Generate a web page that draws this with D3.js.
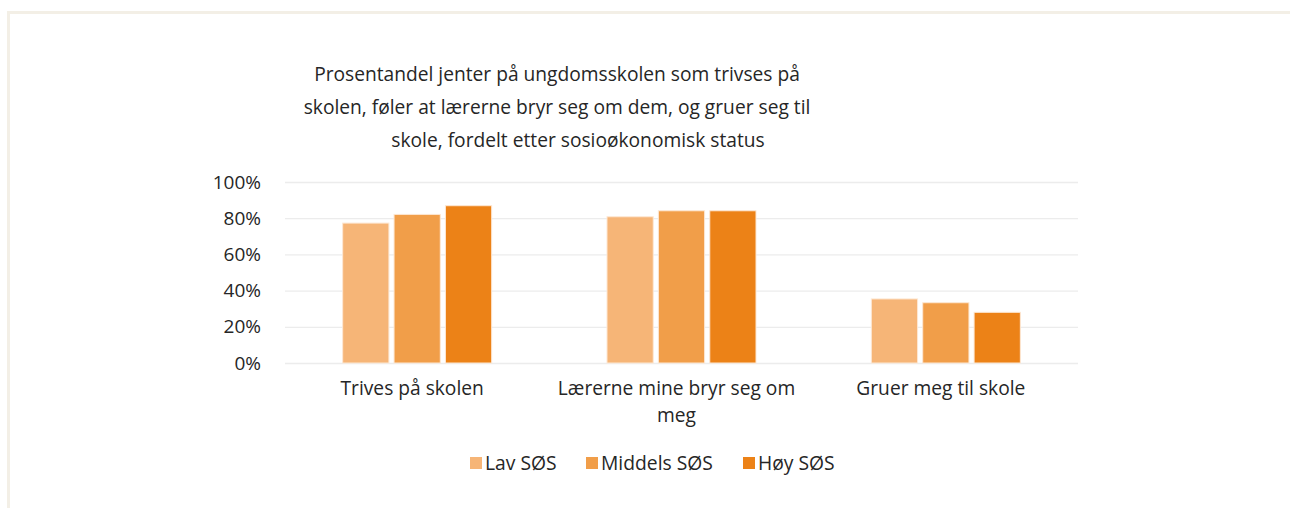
<!DOCTYPE html>
<html>
<head>
<meta charset="utf-8">
<script src="https://cdn.jsdelivr.net/npm/d3@7"></script>
<style>
  body { margin: 0; background: #fff; }
  svg text { font-family: "Open Sans", sans-serif; fill: #262626; }
</style>
</head>
<body>
<svg id="chart" width="1290" height="508"></svg>
<script>
// Chart data
var categories = ["Trives på skolen", "Lærerne mine bryr seg om meg", "Gruer meg til skole"];
var categoryLines = [["Trives på skolen"], ["Lærerne mine bryr seg om", "meg"], ["Gruer meg til skole"]];
var seriesNames = ["Lav SØS", "Middels SØS", "Høy SØS"];
var lavValues = [77.3, 80.8, 35.4];
var middelsValues = [82.1, 84.1, 33.3];
var hoyValues = [86.9, 84.1, 28.0];
var yTicks = [0, 20, 40, 60, 80, 100];
var titleLines = [
    "Prosentandel jenter på ungdomsskolen som trivses på",
    "skolen, føler at lærerne bryr seg om dem, og gruer seg til",
    "skole, fordelt etter sosioøkonomisk status"
];
var colors = ["#f6b577", "#f19e49", "#ec8217"];

var seriesValues = [lavValues, middelsValues, hoyValues];

var svg = d3.select("#chart");

// Frame around the chart area
svg.append("rect")
    .attr("x", 8.5).attr("y", 12.5)
    .attr("width", 1300).attr("height", 520)
    .attr("fill", "none")
    .attr("stroke", "#f3efe6").attr("stroke-width", 3);

// Scales
var x = d3.scaleBand().domain(categories).range([285, 1078]);
var xInner = d3.scaleBand().domain(seriesNames).range([0, 149]).paddingInner(0.1);
var y = d3.scaleLinear().domain([0, 100]).range([363, 182]);

// Gridlines
svg.append("g")
    .selectAll("line")
    .data(yTicks)
    .join("line")
    .attr("x1", 285).attr("x2", 1078)
    .attr("y1", function (d) { return y(d) + 0.5; })
    .attr("y2", function (d) { return y(d) + 0.5; })
    .attr("stroke", "#ececec").attr("stroke-width", 1.3);

// Y axis labels
var yAxis = d3.axisLeft(y).tickValues(yTicks).tickSize(0).tickPadding(0)
    .tickFormat(function (d) { return d + "%"; });
var yAxisG = svg.append("g").attr("transform", "translate(261,0)").call(yAxis);
yAxisG.select(".domain").remove();
yAxisG.selectAll("text")
    .style("font-family", "'Open Sans', sans-serif")
    .style("font-size", "19px")
    .attr("fill", "#262626");

// Bars
var groups = svg.append("g")
    .selectAll("g")
    .data(categories)
    .join("g")
    .attr("transform", function (d) {
        return "translate(" + (x(d) + x.bandwidth() / 2 - 74.5) + ",0)";
    });

groups.selectAll("rect")
    .data(function (d, i) {
        return seriesNames.map(function (s, j) { return { series: s, value: seriesValues[j][i], idx: j }; });
    })
    .join("rect")
    .attr("x", function (d) { return xInner(d.series); })
    .attr("width", xInner.bandwidth())
    .attr("y", function (d) { return y(d.value); })
    .attr("height", function (d) { return y(0) - y(d.value); })
    .attr("fill", function (d) { return colors[d.idx]; })
    .attr("stroke", "#fde8d4").attr("stroke-width", 1);

// Category labels (sit slightly left of the band centre, as in the original)
categoryLines.forEach(function (lines, i) {
    var cx = x(categories[i]) + x.bandwidth() / 2 - 5;
    var label = svg.append("text")
        .attr("x", cx).attr("y", 395)
        .attr("text-anchor", "middle")
        .style("font-size", "19.2px");
    lines.forEach(function (line, k) {
        label.append("tspan")
            .attr("x", cx)
            .attr("dy", k === 0 ? 0 : 26.5)
            .text(line);
    });
});

// Title
var titleX = [557, 557, 578];
titleLines.forEach(function (line, k) {
    svg.append("text")
        .attr("x", titleX[k]).attr("y", 81 + k * 33)
        .attr("text-anchor", "middle")
        .style("font-size", "19.2px")
        .text(line);
});

// Legend
var legendX = [470, 586, 743];
var legend = svg.append("g")
    .selectAll("g")
    .data(seriesNames)
    .join("g")
    .attr("transform", function (d, i) { return "translate(" + legendX[i] + ",457)"; });
legend.append("rect")
    .attr("width", 12).attr("height", 12)
    .attr("fill", function (d, i) { return colors[i]; });
legend.append("text")
    .attr("x", 15).attr("y", 13)
    .style("font-size", "19.3px")
    .text(function (d) { return d; });
</script>
</body>
</html>
